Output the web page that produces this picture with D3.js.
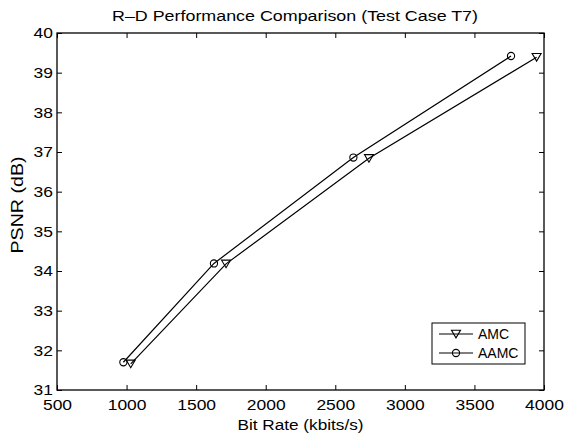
<!DOCTYPE html>
<html>
<head>
<meta charset="utf-8">
<script src="https://cdn.jsdelivr.net/npm/d3@7"></script>
<style>
  body { margin: 0; background: #fff; }
  text { font-family: "Liberation Sans", Arial, sans-serif; fill: #000; }
</style>
</head>
<body>
<script>
"use strict";

// R-D curves
const amcRate = [1030, 1715, 2742, 3947];
const amcPsnr = [31.66, 34.18, 36.84, 39.39];
const aamcRate = [977, 1628, 2630, 3763];
const aamcPsnr = [31.70, 34.19, 36.86, 39.42];

const xTicks = [500, 1000, 1500, 2000, 2500, 3000, 3500, 4000];
const yTicks = [31, 32, 33, 34, 35, 36, 37, 38, 39, 40];

const width = 564, height = 438;
const margin = {left: 57, right: 20, top: 33, bottom: 48};
const plotW = width - margin.left - margin.right;
const plotH = height - margin.top - margin.bottom;

const svg = d3.select("body").append("svg")
    .attr("width", width)
    .attr("height", height);

const x = d3.scaleLinear().domain([500, 4000]).range([0, plotW]);
const y = d3.scaleLinear().domain([31, 40]).range([plotH, 0]);

const g = svg.append("g")
    .attr("transform", `translate(${margin.left},${margin.top})`);

const tickLen = 5;
const fmt = d3.format("d");

// the original font runs wider than Liberation Sans, stretch a bit
function styleAxis(sel) {
  sel.select(".domain").remove();
  sel.selectAll(".tick line").attr("stroke", "#000").attr("stroke-width", 1);
  sel.selectAll(".tick text")
    .style("font-size", "15.5px")
    .style("font-family", "'Liberation Sans', Arial, sans-serif")
    .attr("textLength", function() {
      let n = this.textContent.length;
      return n ? n * 9.7 : null;
    })
    .attr("lengthAdjust", "spacingAndGlyphs");
}

g.append("g")
    .attr("transform", `translate(0,${plotH})`)
    .call(d3.axisBottom(x).tickValues(xTicks).tickSize(-tickLen).tickPadding(9).tickFormat(fmt))
    .call(styleAxis);
g.append("g")
    .call(d3.axisTop(x).tickValues(xTicks).tickSize(-tickLen).tickFormat(""))
    .call(styleAxis);
g.append("g")
    .call(d3.axisLeft(y).tickValues(yTicks).tickSize(-tickLen).tickPadding(4).tickFormat(fmt))
    .call(styleAxis);
g.append("g")
    .attr("transform", `translate(${plotW},0)`)
    .call(d3.axisRight(y).tickValues(yTicks).tickSize(-tickLen).tickFormat(""))
    .call(styleAxis);

g.append("rect")
    .attr("width", plotW)
    .attr("height", plotH)
    .attr("fill", "none")
    .attr("stroke", "#000")
    .attr("stroke-width", 1.3);

const line = d3.line()
    .x(d => x(d[0]))
    .y(d => y(d[1]));

const amc = d3.zip(amcRate, amcPsnr);
const aamc = d3.zip(aamcRate, aamcPsnr);

const triPath = "M-4.5,-3.7L4.5,-3.7L0,3.9Z";

function drawSeries(pts, marker) {
  g.append("path")
      .datum(pts)
      .attr("d", line)
      .attr("fill", "none")
      .attr("stroke", "#000")
      .attr("stroke-width", 1.2);
  let m = g.append("g").selectAll("g")
      .data(pts)
      .enter().append("g")
      .attr("transform", d => `translate(${x(d[0])},${y(d[1])})`);
  drawMarker(m, marker);
}

function drawMarker(sel, marker) {
  if (marker === "tri") {
    sel.append("path")
      .attr("d", triPath)
      .attr("fill", "none")
      .attr("stroke", "#000")
      .attr("stroke-width", 1.1);
  } else {
    sel.append("circle")
      .attr("r", 3.6)
      .attr("fill", "none")
      .attr("stroke", "#000")
      .attr("stroke-width", 1.1);
  }
}

drawSeries(amc, "tri");
drawSeries(aamc, "circ");

// legend
const legend = svg.append("g").attr("transform", "translate(432,323)");
legend.append("rect")
    .attr("width", 93)
    .attr("height", 41)
    .attr("fill", "#fff")
    .attr("stroke", "#000")
    .attr("stroke-width", 1);
const entries = [{name: "AMC", marker: "tri"}, {name: "AAMC", marker: "circ"}];
entries.forEach((e, i) => {
  let row = legend.append("g").attr("transform", `translate(0,${11 + i * 19})`);
  row.append("line")
    .attr("x1", 7).attr("x2", 41)
    .attr("stroke", "#000").attr("stroke-width", 1.2);
  drawMarker(row.append("g").attr("transform", "translate(24,0)"), e.marker);
  row.append("text")
    .attr("x", 46)
    .attr("dy", "0.35em")
    .style("font-size", "14px")
    .text(e.name);
});

// labels
svg.append("text")
    .attr("x", 295)
    .attr("y", 21)
    .attr("text-anchor", "middle")
    .attr("textLength", 366)
    .attr("lengthAdjust", "spacingAndGlyphs")
    .style("font-size", "15.5px")
    .text("R\u2013D Performance Comparison (Test Case T7)");

svg.append("text")
    .attr("x", margin.left + plotW / 2)
    .attr("y", 430)
    .attr("text-anchor", "middle")
    .attr("textLength", 126)
    .attr("lengthAdjust", "spacingAndGlyphs")
    .style("font-size", "15.5px")
    .text("Bit Rate (kbits/s)");

svg.append("text")
    .attr("transform", "translate(23,205) rotate(-90)")
    .attr("text-anchor", "middle")
    .attr("textLength", 97)
    .attr("lengthAdjust", "spacingAndGlyphs")
    .style("font-size", "16px")
    .text("PSNR (dB)");
</script>
</body>
</html>
